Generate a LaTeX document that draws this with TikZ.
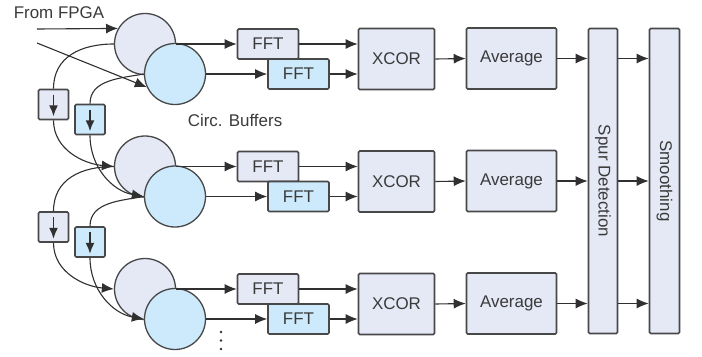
\documentclass[tikz,border=0pt]{standalone}
\usepackage{fontspec}
\setmainfont{Liberation Sans}
\definecolor{buflav}{HTML}{E5E9F6}
\definecolor{bufblue}{HTML}{CCEAFB}
\definecolor{edgegray}{HTML}{484848}
\definecolor{wiregray}{HTML}{303030}
\definecolor{textgray}{HTML}{3A3A3A}
\usetikzlibrary{shapes,arrows.meta,positioning,calc}

\begin{document}
\begin{tikzpicture}[x=1bp,y=1bp,
  font=\fontsize{17}{20}\selectfont, text=textgray,
  wire/.style={draw=wiregray, line width=1.1bp},
  arr/.style={wire, -{Latex[length=12bp,width=10bp]}},
  buf/.style={circle, draw=edgegray, line width=1.3bp, minimum size=61bp, inner sep=0pt},
  blk/.style={rectangle, draw=edgegray, line width=1.6bp, rounded corners=1.2bp,
    fill=buflav, inner sep=0pt},
  fftbox/.style={blk, minimum width=61bp, minimum height=30bp},
  dly/.style={blk, minimum width=30bp, minimum height=30bp},
  dlyarr/.style={draw=wiregray, line width=1.6bp, -{Latex[length=11bp,width=9bp]}}]
\useasboundingbox (0,0) rectangle (702,-356);

% Spur detection and smoothing span all channels
\node[blk, minimum width=29bp, minimum height=305bp] (spur) at (603,-181) {};
\node[rotate=-90] (spurtxt) at (spur.center) {Spur Detection};
\node[blk, minimum width=30bp, minimum height=305bp] (smooth) at (664.5,-181) {};
\node[rotate=-90] (smoothtxt) at (smooth.center) {Smoothing};

% One channel per row: buffers, FFTs, XCOR, averaging
\foreach \r in {0,1,2}{
  \pgfmathsetmacro{\yy}{-122.5*\r}
  \node[buf, fill=buflav] (bufA\r) at (145,-44+\yy) {};
  \node[buf, fill=bufblue] (bufB\r) at (175,-74+\yy) {};
  \node[fftbox] (fftA\r) at (268,-44+\yy) {FFT};
  \node[fftbox, fill=bufblue] (fftB\r) at (298.5,-74+\yy) {FFT};
  \node[blk, minimum width=76bp, minimum height=61bp] (xcor\r) at (396.5,-59+\yy) {XCOR};
  \node[blk, minimum width=90bp, minimum height=61bp] (avg\r) at (511.5,-58.5+\yy) {Average};

  \draw[arr] (bufA\r.east) -- (fftA\r.west);
  \draw[arr] (bufB\r.east) -- (fftB\r.west);
  \draw[arr] (fftA\r.east) -- (fftA\r.east -| xcor\r.west);
  \draw[arr] (fftB\r.east) -- (fftB\r.east -| xcor\r.west);
  \draw[arr] (xcor\r.east) -- (avg\r.west);
  \draw[arr] (avg\r.east) -- (avg\r.east -| spur.west);
  \draw[arr] (avg\r.east -| spur.east) -- (avg\r.east -| smooth.west);
}

% Delays between neighbouring channels
\foreach \r in {0,1}{
  \pgfmathsetmacro{\yy}{-122.5*\r}
  \pgfmathtruncatemacro{\n}{\r+1}
  \node[dly] (delA\r) at (53.5,-104.5+\yy) {};
  \node[dly, fill=bufblue] (delB\r) at (90,-119.5+\yy) {};
  \draw[dlyarr] ([yshift=-6bp]delA\r.north) -- ([yshift=4bp]delA\r.south);
  \draw[dlyarr] ([yshift=-6bp]delB\r.north) -- ([yshift=4bp]delB\r.south);

  \draw[wire] (bufA\r.west) to[out=180,in=90,looseness=1.1] (delA\r.north);
  \draw[wire] (bufB\r.west) to[out=190,in=90] (delB\r.north);
  \draw[arr] (delA\r.south) to[out=-90,in=175] (bufA\n.west);
  \draw[arr] (delB\r.south) to[out=-90,in=170] (bufB\n.west);
}

% Input from the FPGA
\node (fpga) at (59,-12.5) {From FPGA};
\coordinate (inA) at (37,-29);
\coordinate (inB) at (37,-43);
\draw[arr] (inA) -- (bufA0.150);
\draw[arr] (inB) -- (bufB0.205);

\node (bufcap) at (235,-120) {Circ. Buffers};

% more channels below
\foreach \k in {0,1,2}
  \fill[wiregray] (221,-332-8.5*\k) circle (1.4bp);
\end{tikzpicture}
\end{document}
